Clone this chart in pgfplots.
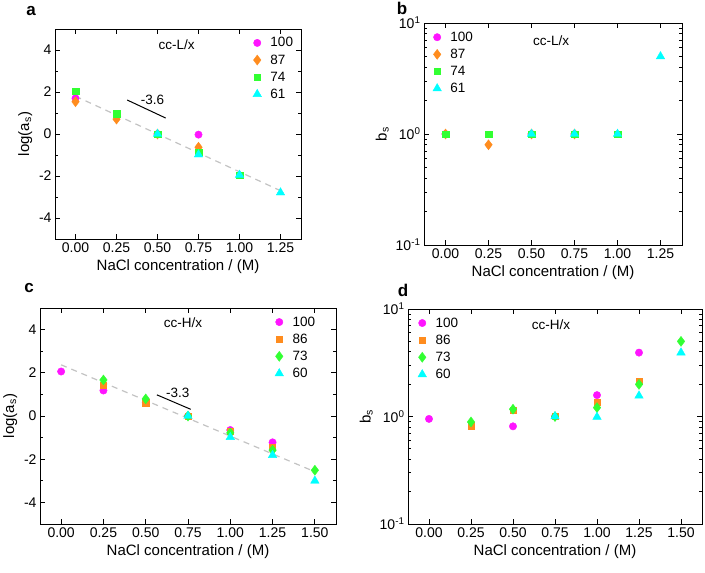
\documentclass[border=0pt]{standalone}
\usepackage{fontspec}
\setmainfont{Liberation Sans}
\usepackage{pgfplots}
\pgfplotsset{compat=1.18}
\definecolor{cmag}{RGB}{255,20,255}
\definecolor{corg}{RGB}{255,140,30}
\definecolor{cgrn}{RGB}{50,255,50}
\definecolor{ccyn}{RGB}{0,255,255}
\definecolor{cdash}{RGB}{195,195,195}
\pgfplotsset{
  base/.style={
    scale only axis,
    axis line style={line width=1pt},
    every tick/.style={black, line width=0.8pt},
    major tick length=5pt, minor tick length=3pt,
    tick align=inside,
    /pgf/number format/assume math mode=true,
    tick label style={font=\fontsize{14}{16}\selectfont},
    label style={font=\fontsize{15}{17}\selectfont},
    xlabel={NaCl concentration / (M)},
    xticklabel style={/pgf/number format/fixed, /pgf/number format/fixed zerofill, /pgf/number format/precision=2},
    legend style={draw=none, fill=none, font=\fontsize{13.5}{15}\selectfont, row sep=2.2pt, inner sep=1pt,
      /tikz/every odd column/.append style={column sep=7pt}},
    legend cell align=left,
    mag/.style={only marks, mark=*, mark size=3.7pt, color=cmag},
    orgd/.style={only marks, mark=diamond*, mark size=5pt, color=corg},
    orgs/.style={only marks, mark=square*, mark size=3.1pt, color=corg},
    grns/.style={only marks, mark=square*, mark size=3.2pt, color=cgrn},
    grnd/.style={only marks, mark=diamond*, mark size=5pt, color=cgrn},
    cyn/.style={only marks, mark=triangle*, mark size=4.9pt, color=ccyn},
    dashline/.style={cdash, line width=1.2pt, dash pattern=on 6pt off 5pt, forget plot},
  }
}
\begin{document}
\begin{tikzpicture}[x=1pt,y=1pt]
\useasboundingbox (0,0) rectangle (705,-573);
% panel letters
\node[font=\fontsize{17}{19}\selectfont\bfseries] at (31,-11) {a};
\node[font=\fontsize{17}{19}\selectfont\bfseries] at (402,-8) {b};
\node[font=\fontsize{17}{19}\selectfont\bfseries] at (29,-288) {c};
\node[font=\fontsize{17}{19}\selectfont\bfseries] at (403,-290) {d};

% ---------- a ----------
\begin{axis}[base, at={(55pt,-239pt)}, anchor=south west, width=246pt, height=210pt,
  xmin=-0.125, xmax=1.375, ymin=-5, ymax=5,
  xtick={0,0.25,0.5,0.75,1,1.25}, ytick={-4,-2,0,2,4}, minor y tick num=1,
  ylabel={log(a\textsubscript{s})},
  legend style={at={(0.80,0.975)}, anchor=north west}]
\addplot[mag] coordinates {(0,1.70) (0.5,0) (0.75,-0.03)};
\addlegendentry{100}
\addplot[orgd] coordinates {(0,1.54) (0.25,0.71) (0.5,0) (0.75,-0.63)};
\addlegendentry{87}
\addplot[grns] coordinates {(0,2.05) (0.25,0.96) (0.5,0) (0.75,-0.87) (1,-1.95)};
\addlegendentry{74}
\addplot[cyn] coordinates {(0.5,0) (0.75,-0.98) (1,-1.95) (1.25,-2.79)};
\addlegendentry{61}
\addplot[dashline] coordinates {(0,1.8) (1.25,-2.7)};
\addplot[black, line width=1pt, forget plot] coordinates {(0.315,1.62) (0.55,0.76)};
\node[font=\fontsize{13.5}{15}\selectfont] at (axis cs:0.47,1.62) {-3.6};
\node[font=\fontsize{13.5}{15}\selectfont] at (axis cs:0.616,4.24) {cc-L/x};
\end{axis}

% ---------- b ----------
\begin{axis}[base, at={(424pt,-245pt)}, anchor=south west, width=258pt, height=222pt,
  xmin=-0.125, xmax=1.375, ymode=log, ymin=0.1, ymax=10,
  xtick={0,0.25,0.5,0.75,1,1.25}, ytick={0.1,1,10},
  yticklabels={10\textsuperscript{-1},10\textsuperscript{0},10\textsuperscript{1}},
  ylabel={b\textsubscript{s}},
  legend style={at={(0.03,0.975)}, anchor=north west}]
\addplot[mag] coordinates {(0,1) (0.5,1) (0.75,1)};
\addlegendentry{100}
\addplot[orgd] coordinates {(0,1) (0.25,0.80) (0.5,1) (0.75,1)};
\addlegendentry{87}
\addplot[grns] coordinates {(0,1) (0.25,1) (0.5,1) (0.75,1) (1,1)};
\addlegendentry{74}
\addplot[cyn] coordinates {(0.5,1) (0.75,1) (1,1) (1.25,5)};
\addlegendentry{61}
\node[font=\fontsize{13.5}{15}\selectfont] at (axis cs:0.614,7.0) {cc-L/x};
\end{axis}

% ---------- c ----------
\begin{axis}[base, at={(40pt,-524pt)}, anchor=south west, width=296pt, height=216pt,
  xmin=-0.125, xmax=1.625, ymin=-5, ymax=5,
  xtick={0,0.25,0.5,0.75,1,1.25,1.5}, ytick={-4,-2,0,2,4}, minor y tick num=1,
  ylabel={log(a\textsubscript{s})},
  legend style={at={(0.79,0.975)}, anchor=north west}]
\addplot[mag] coordinates {(0,2.06) (0.25,1.18) (0.5,0.62) (0.75,0) (1,-0.65) (1.25,-1.22)};
\addlegendentry{100}
\addplot[orgs] coordinates {(0.25,1.44) (0.5,0.62) (0.75,0) (1,-0.72) (1.25,-1.43)};
\addlegendentry{86}
\addplot[grnd] coordinates {(0.25,1.67) (0.5,0.79) (0.75,0) (1,-0.78) (1.25,-1.58) (1.5,-2.51)};
\addlegendentry{73}
\addplot[cyn] coordinates {(0.75,0) (1,-0.98) (1.25,-1.81) (1.5,-3.0)};
\addlegendentry{60}
\addplot[dashline] coordinates {(0,2.37) (1.5,-2.58)};
\addplot[black, line width=1pt, forget plot] coordinates {(0.566,0.98) (0.766,0.31)};
\node[font=\fontsize{13.5}{15}\selectfont] at (axis cs:0.69,1.05) {-3.3};
\node[font=\fontsize{13.5}{15}\selectfont] at (axis cs:0.72,4.33) {cc-H/x};
\end{axis}

% ---------- d ----------
\begin{axis}[base, at={(408pt,-524pt)}, anchor=south west, width=294pt, height=215pt,
  xmin=-0.125, xmax=1.625, ymode=log, ymin=0.1, ymax=10,
  xtick={0,0.25,0.5,0.75,1,1.25,1.5}, ytick={0.1,1,10},
  yticklabels={10\textsuperscript{-1},10\textsuperscript{0},10\textsuperscript{1}},
  ylabel={b\textsubscript{s}},
  legend style={at={(0.03,0.975)}, anchor=north west}]
\addplot[mag] coordinates {(0,0.95) (0.5,0.81) (0.75,1) (1,1.58) (1.25,3.93)};
\addlegendentry{100}
\addplot[orgs] coordinates {(0.25,0.82) (0.5,1.15) (0.75,1) (1,1.35) (1.25,2.13)};
\addlegendentry{86}
\addplot[grnd] coordinates {(0.25,0.89) (0.5,1.17) (0.75,1) (1,1.21) (1.25,1.99) (1.5,5.0)};
\addlegendentry{73}
\addplot[cyn] coordinates {(0.75,1) (1,0.99) (1.25,1.56) (1.5,3.93)};
\addlegendentry{60}
\node[font=\fontsize{13.5}{15}\selectfont] at (axis cs:0.726,7.2) {cc-H/x};
\end{axis}
\end{tikzpicture}
\end{document}
